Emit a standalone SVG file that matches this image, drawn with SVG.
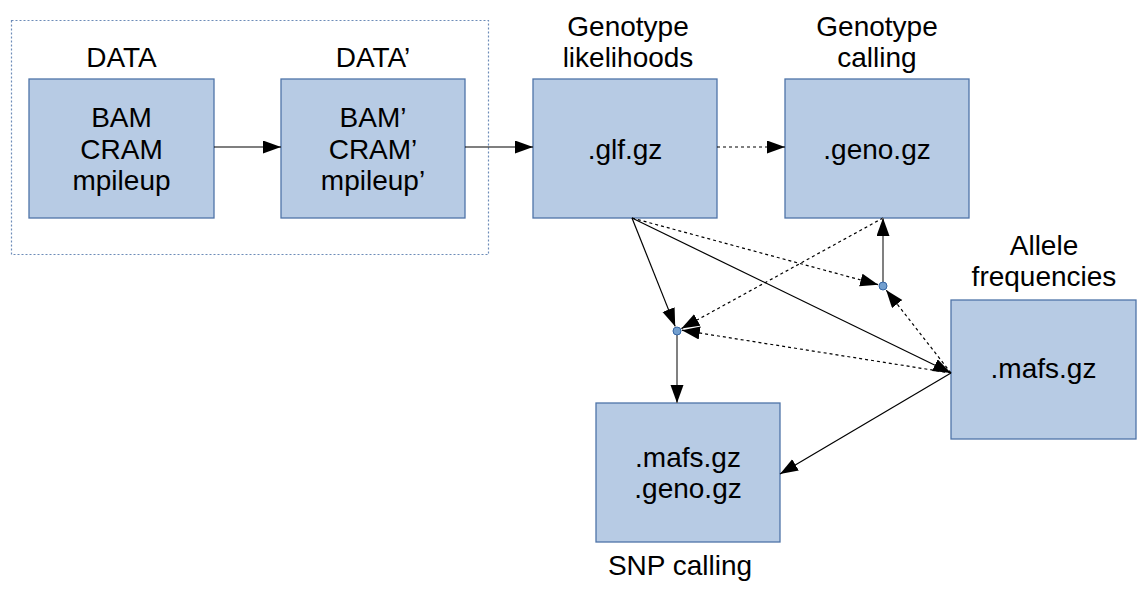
<svg xmlns="http://www.w3.org/2000/svg" width="1144" height="595" viewBox="0 0 1144 595">
<defs>
<marker id="ah" markerUnits="userSpaceOnUse" markerWidth="20" markerHeight="14" refX="18" refY="6.5" orient="auto">
<path d="M0,0 L18,6.5 L0,13 z" fill="#000"/>
</marker>
<style>
.box{fill:#b7cbe4;stroke:#4f74a8;stroke-width:1.3}
.t{font-family:"Liberation Sans",Arial,sans-serif;font-size:28px;fill:#000;text-anchor:middle}
.s{stroke:#000;stroke-width:1.2;fill:none}
.d{stroke:#000;stroke-width:1.2;fill:none;stroke-dasharray:3,3}
.g{stroke:#808080;stroke-width:2;fill:none}
.dot{fill:#729fcf;stroke:#3465a4;stroke-width:1}
</style>
</defs>
<rect width="1144" height="595" fill="#fff"/>
<rect id="group" x="11.5" y="20.5" width="477" height="234" fill="none" stroke="#6d8cb8" stroke-width="1.2" stroke-dasharray="2,2"/>
<g id="data">
<rect class="box" x="29" y="79" width="185" height="139"/>
<text class="t" x="121.5" y="67">DATA</text>
<text class="t" x="121.5" y="127">BAM</text>
<text class="t" x="121.5" y="159">CRAM</text>
<text class="t" x="121.5" y="190">mpileup</text>
</g>
<g id="data2">
<rect class="box" x="281" y="79" width="184" height="139"/>
<text class="t" x="373" y="67">DATA’</text>
<text class="t" x="373" y="127">BAM’</text>
<text class="t" x="373" y="159">CRAM’</text>
<text class="t" x="373" y="190">mpileup’</text>
</g>
<g id="glf">
<rect class="box" x="533" y="79" width="184" height="139"/>
<text class="t" x="628" y="36">Genotype</text>
<text class="t" x="628" y="67">likelihoods</text>
<text class="t" x="625" y="159">.glf.gz</text>
</g>
<g id="geno">
<rect class="box" x="785" y="79" width="184" height="139"/>
<text class="t" x="877" y="36">Genotype</text>
<text class="t" x="877" y="67">calling</text>
<text class="t" x="877" y="159">.geno.gz</text>
</g>
<g id="mafs">
<rect class="box" x="951" y="300" width="185" height="139"/>
<text class="t" x="1044" y="255">Allele</text>
<text class="t" x="1044" y="286">frequencies</text>
<text class="t" x="1043.5" y="378">.mafs.gz</text>
</g>
<g id="snp">
<rect class="box" x="596" y="403" width="184" height="139"/>
<text class="t" x="688" y="467">.mafs.gz</text>
<text class="t" x="688" y="498">.geno.gz</text>
<text class="t" x="680" y="575">SNP calling</text>
</g>
<g id="connectors">
<line class="s" x1="214" y1="147" x2="281" y2="147" marker-end="url(#ah)"/>
<line class="s" x1="465" y1="147" x2="533" y2="147" marker-end="url(#ah)"/>
<line class="d" x1="717" y1="147" x2="785" y2="147" marker-end="url(#ah)"/>
<line class="s" x1="632" y1="218" x2="675.2" y2="326.4" marker-end="url(#ah)"/>
<line class="s" x1="632" y1="218" x2="951" y2="373" marker-end="url(#ah)"/>
<line class="d" x1="632" y1="218" x2="878.2" y2="284.7" marker-end="url(#ah)"/>
<line class="d" x1="883" y1="218" x2="681.4" y2="328.6" marker-end="url(#ah)"/>
<line class="d" x1="951" y1="373" x2="681.9" y2="330.2" marker-end="url(#ah)"/>
<line class="d" x1="951" y1="373" x2="886.1" y2="289.9" marker-end="url(#ah)"/>
<line class="s" x1="951" y1="373" x2="780" y2="474" marker-end="url(#ah)"/>
<line class="g" x1="883" y1="282" x2="883" y2="218" marker-end="url(#ah)"/>
<line class="g" x1="677" y1="335" x2="677" y2="403" marker-end="url(#ah)"/>
<circle class="dot" cx="677" cy="331" r="4"/>
<circle class="dot" cx="883" cy="286" r="4"/>
</g>
</svg>
